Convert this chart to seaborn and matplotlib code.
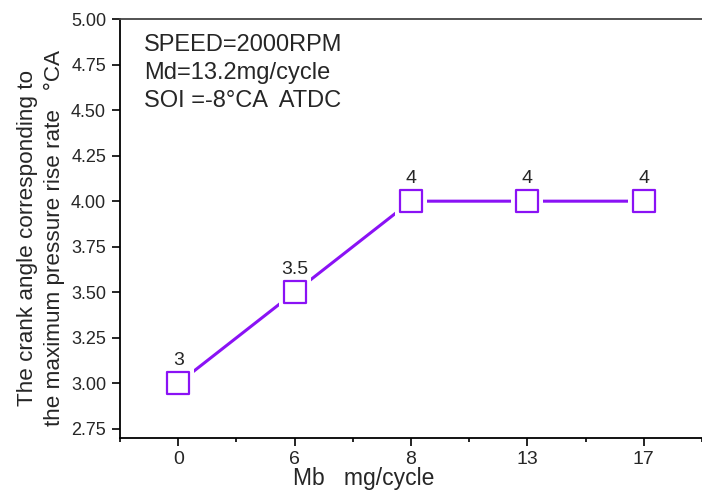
import numpy as np
import seaborn as sns
import matplotlib.pyplot as plt

mb_labels = ["0", "6", "8", "13", "17"]
crank_angle = [3.0, 3.5, 4.0, 4.0, 4.0]
point_labels = ["3", "3.5", "4", "4", "4"]
yticks = [2.75, 3.00, 3.25, 3.50, 3.75, 4.00, 4.25, 4.50, 4.75, 5.00]
info_lines = ["SPEED=2000RPM", "Md=13.2mg/cycle", "SOI =-8\u00b0CA  ATDC"]

purple = "#8A12F5"

sns.set_style("white")
plt.rcParams['font.family'] = ['Liberation Sans', 'DejaVu Sans']

fig = plt.figure(figsize=(7.02, 4.9), dpi=100)
ax = fig.add_axes([120 / 702, 52 / 490, 582 / 702, 419 / 490])

sns.lineplot(x=mb_labels, y=crank_angle, sort=False, color=purple, lw=2.2, ax=ax, zorder=2)
# white squares behind the markers give the gap in the line
sns.scatterplot(x=mb_labels, y=crank_angle, marker="s", s=520, color="white",
                edgecolor="white", linewidth=0, ax=ax, zorder=3)
sns.scatterplot(x=mb_labels, y=crank_angle, marker="s", s=250, facecolor="white",
                edgecolor=purple, linewidth=1.6, ax=ax, zorder=4)

for i, (v, t) in enumerate(zip(crank_angle, point_labels)):
    ax.annotate(t, (i, v), xytext=(0, 10), textcoords="offset points",
                ha="center", va="bottom", fontsize=14)

ax.set_xlim(-0.5, 4.41)
ax.set_ylim(2.7, 5.0)
ax.set_yticks(yticks)
ax.set_yticklabels([f"{t:.2f}" for t in yticks])
ax.set_xticks(range(len(mb_labels)))
ax.set_xticklabels(mb_labels)
ax.set_xticks(np.arange(-0.5, 4.6, 1.0), minor=True)
ax.tick_params(axis="both", which="major", direction="out", length=6, width=1.2,
               labelsize=13, pad=4, color="black")
ax.tick_params(axis="x", which="major", labelsize=14, pad=3)
ax.tick_params(axis="x", which="minor", direction="out", length=3, width=1.2, color="black")
ax.tick_params(left=True, bottom=True)
ax.tick_params(axis="x", which="minor", bottom=True)

ax.spines["right"].set_visible(False)
ax.spines["top"].set_color("#444444")
for s in ["left", "bottom", "top"]:
    ax.spines[s].set_linewidth(1.3)
ax.spines["left"].set_color("black")
ax.spines["bottom"].set_color("black")
ax.set_xlabel("")
ax.set_ylabel("")

ax.text(0.419, -0.112, "Mb   mg/cycle", transform=ax.transAxes, ha="center",
        va="baseline", fontsize=16.5)
fig.text(41 / 702, 1 - 238 / 490,
         "The crank angle corresponding to\nthe maximum pressure rise rate   \u00b0CA",
         rotation=90, ha="center", va="center", multialignment="center",
         fontsize=16.2, linespacing=1.35)

for line, yb in zip(info_lines, [51, 79, 107]):
    ax.text(24 / 582, (438 - yb) / 419, line, transform=ax.transAxes, ha="left",
            va="baseline", fontsize=17)

fig.savefig("out.png", dpi=100)
